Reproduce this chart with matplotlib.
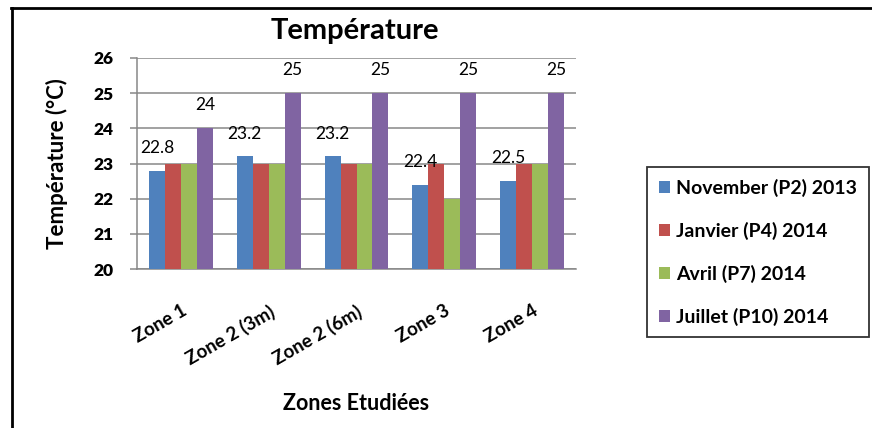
import numpy as np
import matplotlib
matplotlib.use('Agg')
import matplotlib.pyplot as plt
from matplotlib.lines import Line2D
from matplotlib.patches import Patch

plt.rcParams['font.family'] = ['Lato', 'DejaVu Sans']

zones = ['Zone 1', 'Zone 2 (3m)', 'Zone 2 (6m)', 'Zone 3', 'Zone 4']
periodes = ['November (P2) 2013', 'Janvier (P4) 2014', 'Avril (P7) 2014', 'Juillet (P10) 2014']
novembre = [22.8, 23.2, 23.2, 22.4, 22.5]
janvier = [23, 23, 23, 23, 23]
avril = [23, 23, 23, 22, 23]
juillet = [24, 25, 25, 25, 25]
couleurs = ['#4F81BD', '#C0504D', '#9BBB59', '#8064A2']
graduations = [20, 21, 22, 23, 24, 25, 26]

series = [novembre, janvier, avril, juillet]

W, H = 872, 428
fig = plt.figure(figsize=(W / 100, H / 100), dpi=100)
ax = fig.add_axes([137 / W, 1 - 269 / H, (576 - 137) / W, (269 - 58) / H])

x = np.arange(len(zones))
largeur = 0.182
for i, vals in enumerate(series):
    ax.bar(x + (i - 1.5) * largeur, vals, largeur, color=couleurs[i], zorder=3)

# etiquettes seulement pour novembre et juillet
for i in [0, 3]:
    for xi, v in zip(x + (i - 1.5) * largeur, series[i]):
        ax.annotate('%g' % v, (xi, v), xytext=(0, 16.5), textcoords='offset points',
                    ha='center', va='center', fontsize=12.5, zorder=4)

ax.set_ylim(20, 26)
ax.set_xlim(-0.5, len(zones) - 0.5)
ax.set_yticks(graduations)
ax.set_yticklabels([str(g) for g in graduations])
ax.grid(axis='y', color='#878787', linewidth=1.1, zorder=0)
ax.set_axisbelow(True)
for s in ['top', 'right']:
    ax.spines[s].set_visible(False)
for s in ['left', 'bottom']:
    ax.spines[s].set_color('#878787')
    ax.spines[s].set_linewidth(1.1)
ax.tick_params(axis='y', direction='out', length=5, width=1.1, color='#878787', pad=12)
plt.setp(ax.get_yticklabels(), fontsize=12.5, fontweight='heavy')
ax.set_xticks(x)
ax.set_xticklabels(zones, rotation=30, ha='right', va='top', rotation_mode='anchor',
                   fontsize=13.5, fontweight='bold')
ax.tick_params(axis='x', length=0, pad=24)

fig.text(355 / W, 1 - 31 / H, 'Température', ha='center', va='center', fontsize=21, fontweight='bold')
fig.text(57 / W, 1 - 164 / H, 'Température (°C)', ha='center', va='center', rotation=90,
         fontsize=16, fontweight='bold')
fig.text(356 / W, 1 - 403 / H, 'Zones Etudiées', ha='center', va='center', fontsize=15.5, fontweight='bold')

handles = [Patch(facecolor=c, edgecolor='none') for c in couleurs]
leg = fig.legend(handles, periodes, loc='upper left', bbox_to_anchor=(647 / W, 1 - 167 / H),
                 frameon=True, fancybox=False, borderpad=0.6, labelspacing=1.28,
                 handlelength=0.6, handleheight=0.6, handletextpad=0.3, borderaxespad=0,
                 prop={'weight': 'bold', 'size': 14})
leg.get_frame().set_edgecolor('black')
leg.get_frame().set_linewidth(1.3)

# cadre du graphique
fig.add_artist(Line2D([11 / W, 1], [1 - 7.5 / H, 1 - 7.5 / H], color='black', linewidth=2))
fig.add_artist(Line2D([11.5 / W, 11.5 / W], [0, 1 - 7.5 / H], color='black', linewidth=2))

fig.savefig('out.png', dpi=100)
